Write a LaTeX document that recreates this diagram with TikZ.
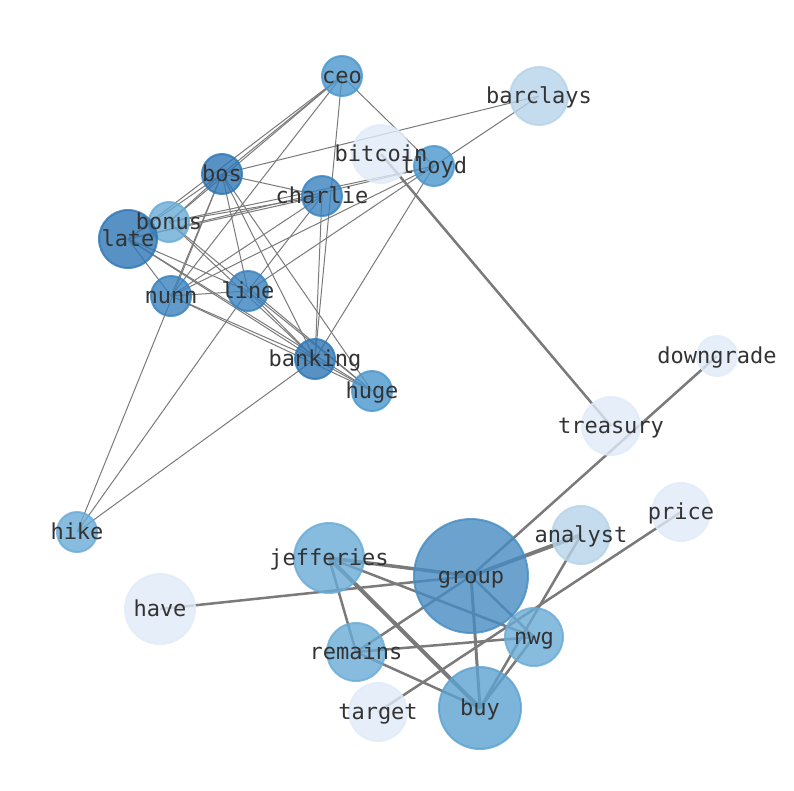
\documentclass[tikz,border=0pt]{standalone}
\usepackage{fontspec}
\setmonofont{DejaVu Sans Mono}
\usepackage{tikz}
\pgfdeclarelayer{edges}
\pgfdeclarelayer{words}
\pgfsetlayers{edges,main,words}
\definecolor{ink}{HTML}{333333}
\definecolor{edge}{HTML}{7A7A7A}
\definecolor{blueA}{HTML}{2E76B4}
\definecolor{blueB}{HTML}{3882BE}
\definecolor{blueC}{HTML}{4A97CD}
\definecolor{blueG}{HTML}{468CC2}
\definecolor{blueU}{HTML}{5CA1D0}
\definecolor{blueD}{HTML}{69ABD6}
\definecolor{blueE}{HTML}{B5D3E8}
\definecolor{blueF}{HTML}{E0EBF8}
\tikzset{
  word/.style={circle, inner sep=0pt, line width=2pt, fill opacity=0.8, draw opacity=0.8},
  toneA/.style={word, fill=blueA, draw=blueA},
  toneB/.style={word, fill=blueB, draw=blueB},
  toneC/.style={word, fill=blueC, draw=blueC},
  toneG/.style={word, fill=blueG, draw=blueG},
  toneU/.style={word, fill=blueU, draw=blueU},
  toneD/.style={word, fill=blueD, draw=blueD},
  toneE/.style={word, fill=blueE, draw=blueE},
  toneF/.style={word, fill=blueF, draw=blueF},
  lab/.style={text=ink, inner sep=0pt, font=\ttfamily\fontsize{22}{24}\selectfont,
    text height=1ex, text depth=0pt, yshift=-5pt},
  link/.style={draw=edge, line width=1pt},
  tie/.style={draw=edge, line width=#1pt},
}

\begin{document}
\begin{tikzpicture}[x=1pt, y=-1pt]
\useasboundingbox (0,0) rectangle (794,790);
% word circles
\foreach \n/\x/\y/\d/\t in {ceo/342/76/40/C, barclays/539/96/58/E, bitcoin/381/154/58/F,
    lloyd/434/166/40/C, bos/222/174/40/A, charlie/322/196/40/B, bonus/169/222/40/D,
    late/128/239/58/A, nunn/171/296/40/B, line/248/291/40/B, banking/315/359/40/A,
    huge/372/391/40/C, hike/77/532/40/D, downgrade/717/356/40/F, treasury/611/426/58/F,
    price/681/512/58/F, analyst/581/535/58/E, jefferies/329/558/70/D, group/471/576/114/G,
    have/160/609/70/F, nwg/534/637/58/D, remains/356/652/58/D, target/378/712/58/F,
    buy/480/708/82/U}
  \node[tone\t, minimum size=\d pt] (\n) at (\x,\y) {};

\begin{pgfonlayer}{edges}
% thin links of the upper cluster
\foreach \a/\b in {ceo/bos, ceo/bonus, ceo/late, ceo/nunn, ceo/banking, ceo/lloyd,
    bos/barclays, bos/charlie, bos/bonus, bos/late, bos/nunn, bos/line, bos/banking,
    bos/huge, bos/hike, charlie/bonus, charlie/late, charlie/nunn, charlie/line,
    charlie/banking, lloyd/barclays, lloyd/bonus, lloyd/late, lloyd/nunn, lloyd/line,
    lloyd/banking, late/nunn, late/line, late/banking, late/huge, bonus/banking,
    bonus/huge, nunn/line, nunn/banking, nunn/huge, line/banking, line/huge, line/hike,
    banking/huge, banking/hike}
  \draw[link] (\a.center) -- (\b.center);
% heavier ties
\foreach \a/\b/\w in {bitcoin/treasury/2.5, group/downgrade/2.5, group/analyst/4,
    group/jefferies/3.5, group/have/2.5, group/remains/2.5, group/buy/3, group/nwg/2.5,
    jefferies/remains/2.5, jefferies/buy/4, jefferies/nwg/2.5, remains/nwg/2.5,
    remains/buy/2.5, target/price/2.5, buy/analyst/2.5, buy/nwg/2.5}
  \draw[tie=\w] (\a.center) -- (\b.center);
\end{pgfonlayer}

\begin{pgfonlayer}{words}
\foreach \n in {ceo, barclays, bitcoin, lloyd, bos, charlie, bonus, late, nunn, line,
    banking, huge, hike, downgrade, treasury, price, analyst, jefferies, group, have,
    nwg, remains, target, buy}
  \node[lab] at (\n) {\n};
\end{pgfonlayer}
\end{tikzpicture}
\end{document}
